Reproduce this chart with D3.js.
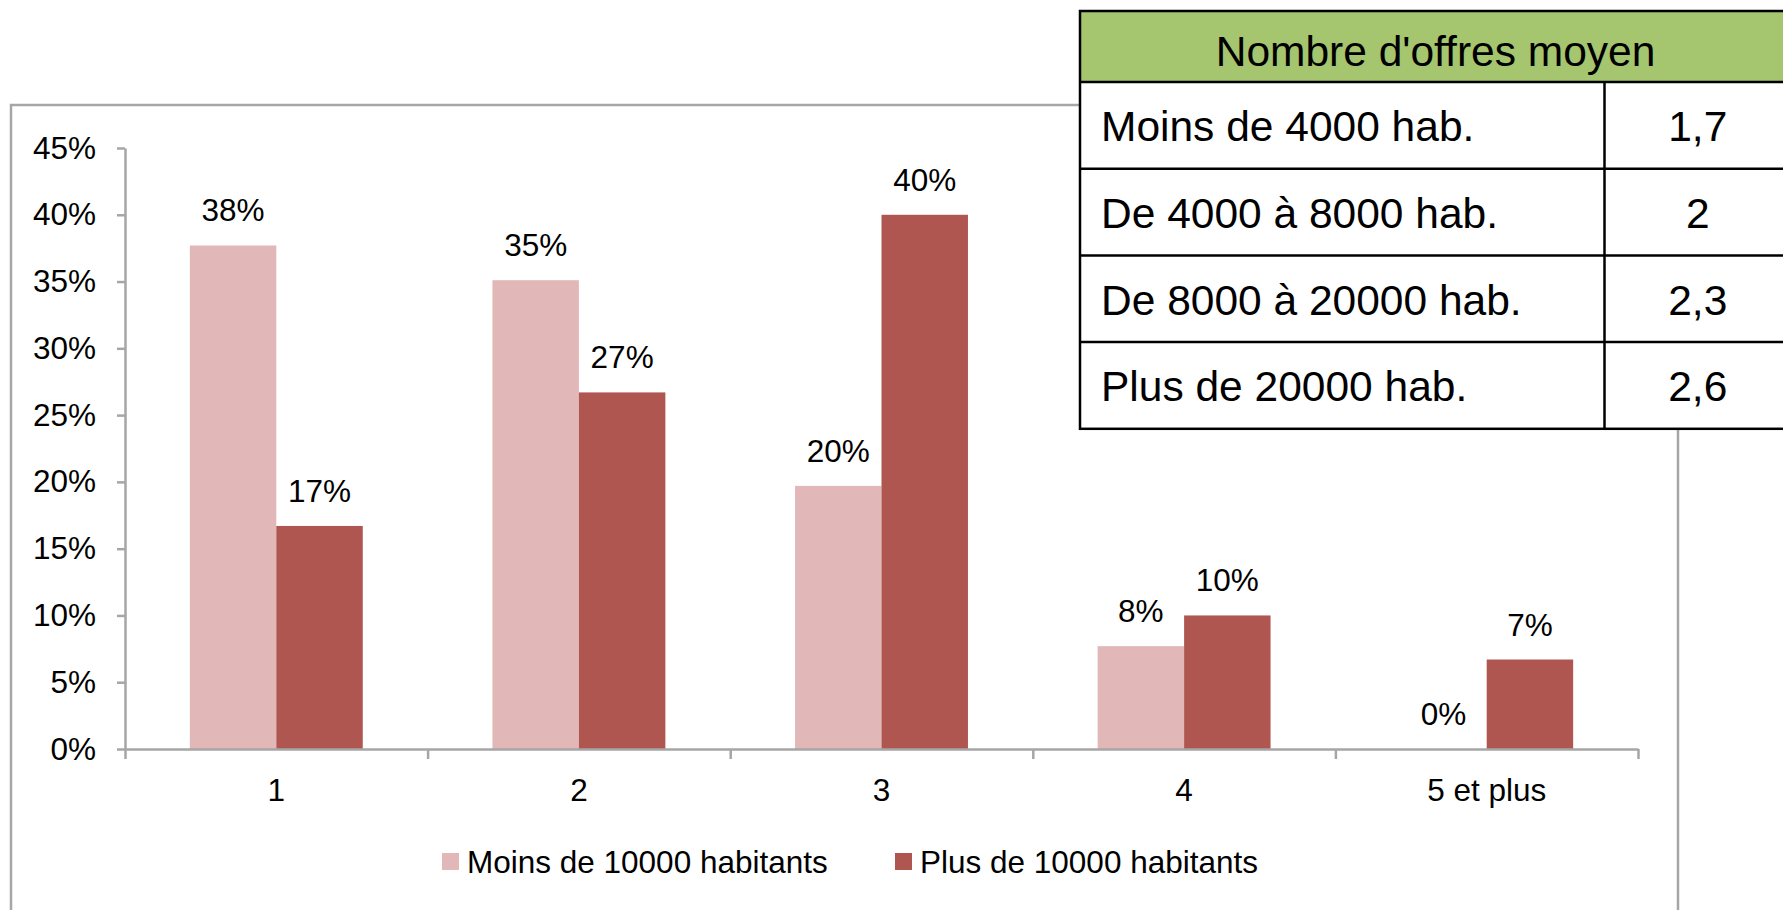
<!DOCTYPE html>
<html>
<head>
<meta charset="utf-8">
<script src="https://cdn.jsdelivr.net/npm/d3@7"></script>
<style>
  html, body { margin: 0; padding: 0; background: #fff; }
  svg text { font-family: "Liberation Sans", Arial, sans-serif; fill: #000; }
</style>
</head>
<body>
<script>
// chart data
const categories = ["1", "2", "3", "4", "5 et plus"];
const seriesNames = ["Moins de 10000 habitants", "Plus de 10000 habitants"];
const moins10000 = [0.377, 0.351, 0.197, 0.077, 0];
const plus10000 = [0.167, 0.267, 0.40, 0.10, 0.067];
const yTicks = [0, 0.05, 0.10, 0.15, 0.20, 0.25, 0.30, 0.35, 0.40, 0.45];

// inset table
const tableTitle = "Nombre d'offres moyen";
const tableRows = ["Moins de 4000 hab.", "De 4000 à 8000 hab.", "De 8000 à 20000 hab.", "Plus de 20000 hab."];
const tableValues = [1.7, 2, 2.3, 2.6];

const width = 1783, height = 910;
const colors = ["#e1b8b7", "#af5651"];
const axisColor = "#a6a6a6";
const fs = 31.5;

const svg = d3.select("body").append("svg")
    .attr("width", width)
    .attr("height", height);

// outer chart frame
svg.append("rect")
    .attr("x", 11).attr("y", 105)
    .attr("width", 1667).attr("height", 830)
    .attr("fill", "#fff")
    .attr("stroke", axisColor)
    .attr("stroke-width", 2.5);

const plot = {left: 125, right: 1638, top: 148, bottom: 749};

const x0 = d3.scaleBand()
    .domain(categories)
    .range([plot.left, plot.right])
    .padding(0);

const barW = x0.bandwidth() / 3.5;
const x1 = d3.scaleBand()
    .domain(seriesNames)
    .range([barW * 0.75, barW * 2.75])
    .padding(0);

const y = d3.scaleLinear()
    .domain([0, 0.45])
    .range([plot.bottom, plot.top]);

// y axis
const yAxis = svg.append("g")
    .attr("transform", `translate(${plot.left},0)`)
    .call(d3.axisLeft(y)
      .tickValues(yTicks)
      .tickFormat(d3.format(".0%"))
      .tickSize(8)
      .tickSizeOuter(0)
      .tickPadding(21));
yAxis.select(".domain").attr("stroke", axisColor).attr("stroke-width", 2.5);
yAxis.selectAll(".tick line").attr("stroke", axisColor).attr("stroke-width", 2.5);
yAxis.selectAll(".tick text").attr("font-size", fs).attr("fill", "#000")
    .style("font-family", "'Liberation Sans', Arial, sans-serif");

// bars
const series = [moins10000, plus10000];
const groups = svg.append("g").selectAll("g")
  .data(series)
  .join("g")
    .attr("fill", (d, i) => colors[i]);

groups.each(function(vals, si) {
  const g = d3.select(this);
  g.selectAll("rect")
    .data(vals)
    .join("rect")
      .attr("x", (d, i) => x0(categories[i]) + x1(seriesNames[si]))
      .attr("y", d => y(d))
      .attr("width", x1.bandwidth())
      .attr("height", d => y(0) - y(d));
  g.selectAll("text")
    .data(vals)
    .join("text")
      .attr("x", (d, i) => x0(categories[i]) + x1(seriesNames[si]) + x1.bandwidth() / 2)
      .attr("y", d => y(d) - 24)
      .attr("text-anchor", "middle")
      .attr("font-size", fs)
      .text(d => d3.format(".0%")(d));
});

// x axis with boundary ticks
const xb = d3.scaleLinear().domain([0, categories.length]).range([plot.left, plot.right]);
const xAxis = svg.append("g")
    .attr("transform", `translate(0,${plot.bottom})`)
    .call(d3.axisBottom(xb)
      .tickValues(d3.range(categories.length + 1))
      .tickFormat("")
      .tickSize(10)
      .tickSizeOuter(0));
xAxis.select(".domain").attr("stroke", axisColor).attr("stroke-width", 2.5);
xAxis.selectAll(".tick line").attr("stroke", axisColor).attr("stroke-width", 2.5);

svg.append("g")
  .selectAll("text")
  .data(categories)
  .join("text")
    .attr("x", d => x0(d) + x0.bandwidth() / 2)
    .attr("y", 801)
    .attr("text-anchor", "middle")
    .attr("font-size", fs)
    .text(d => d);

// legend
const legendX = [442, 895];
const legend = svg.append("g").selectAll("g")
  .data(seriesNames)
  .join("g")
    .attr("transform", (d, i) => `translate(${legendX[i]},853)`);
legend.append("rect")
    .attr("width", 17).attr("height", 17)
    .attr("fill", (d, i) => colors[i]);
legend.append("text")
    .attr("x", 25).attr("y", 20)
    .attr("font-size", fs)
    .text(d => d);

// inset table
const tb = {left: 1080, right: 1791, top: 11, head: 82, rowH: 86.7, split: 1604.5};
const table = svg.append("g");
table.append("rect")
    .attr("x", tb.left).attr("y", tb.top)
    .attr("width", tb.right - tb.left).attr("height", tb.head - tb.top + tb.rowH * tableRows.length)
    .attr("fill", "#fff");
table.append("rect")
    .attr("x", tb.left).attr("y", tb.top)
    .attr("width", tb.right - tb.left).attr("height", tb.head - tb.top)
    .attr("fill", "#a5c56e");
table.append("text")
    .attr("x", (tb.left + tb.right) / 2).attr("y", 66)
    .attr("text-anchor", "middle")
    .attr("font-size", 42.5)
    .text(tableTitle);

const rows = table.selectAll("g.row")
  .data(tableRows)
  .join("g")
    .attr("class", "row")
    .attr("transform", (d, i) => `translate(0,${tb.head + i * tb.rowH})`);
rows.append("line")
    .attr("x1", tb.left).attr("x2", tb.right)
    .attr("y1", 0).attr("y2", 0);
rows.append("line")
    .attr("x1", tb.split).attr("x2", tb.split)
    .attr("y1", 0).attr("y2", tb.rowH);
rows.append("text")
    .attr("x", 1101).attr("y", tb.rowH / 2 + 16)
    .attr("font-size", 42.5)
    .text(d => d);
rows.append("text")
    .attr("x", (tb.split + tb.right) / 2).attr("y", tb.rowH / 2 + 16)
    .attr("text-anchor", "middle")
    .attr("font-size", 42.5)
    .text((d, i) => String(tableValues[i]).replace(".", ","));

table.append("rect")
    .attr("x", tb.left).attr("y", tb.top)
    .attr("width", tb.right - tb.left).attr("height", tb.head - tb.top + tb.rowH * tableRows.length)
    .attr("fill", "none");
table.selectAll("line, rect:last-child")
    .attr("stroke", "#000")
    .attr("stroke-width", 2.5);
</script>
</body>
</html>
